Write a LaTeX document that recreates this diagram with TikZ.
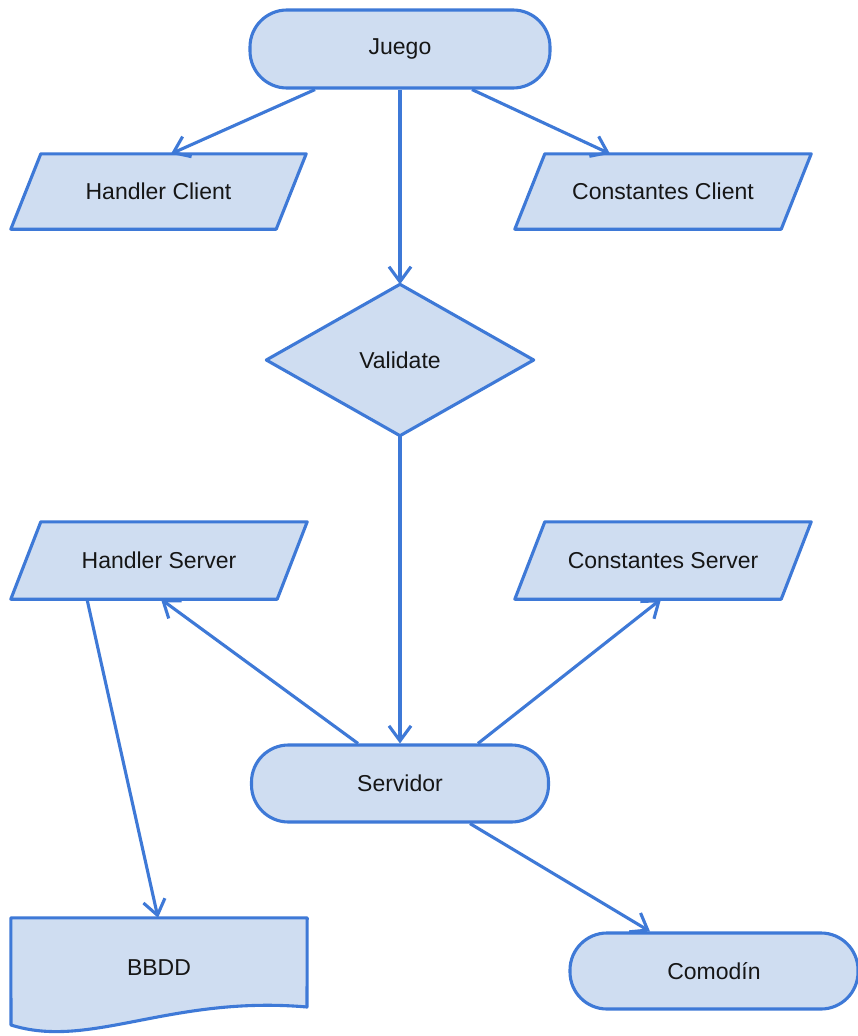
\documentclass[tikz,border=0pt]{standalone}
\usepackage{fontspec}
\setmainfont{Liberation Sans}
\usetikzlibrary{arrows.meta,backgrounds}

\definecolor{edgeblue}{RGB}{62,121,215}
\definecolor{boxfill}{RGB}{207,221,241}
\definecolor{ink}{RGB}{22,22,22}

\tikzset{
  shapeline/.style={draw=edgeblue, line width=3.1pt, fill=boxfill, line join=round},
  txt/.style={rectangle, inner sep=0pt, text=ink, font=\fontsize{23}{27}\selectfont},
  stadium/.style={txt, shapeline, rounded corners=37pt},
  flow/.style={draw=edgeblue, line width=3.1pt,
    -{Straight Barb[length=15pt,width=22pt,line width=3.1pt]}}
}

\begin{document}
\begin{tikzpicture}[x=1pt,y=-1pt]
  \useasboundingbox (0,0) rectangle (857,1036);

  % terminals
  \node[stadium, minimum width=300pt, minimum height=78pt] (juego) at (400,49) {Juego};
  \node[stadium, minimum width=297pt, minimum height=77pt] (serv) at (400,783.5) {Servidor};
  \node[stadium, minimum width=288pt, minimum height=76pt] (com) at (714,971) {Comodín};

  % data (parallelograms), decision and document: text boxes, outlines drawn behind
  \node[txt, minimum width=295pt, minimum height=75pt] (hc) at (158.5,191.5) {Handler Client};
  \node[txt, minimum width=296pt, minimum height=75pt] (cc) at (663,191.5) {Constantes Client};
  \node[txt, minimum width=267pt, minimum height=151pt] (val) at (400,360) {Validate};
  \node[txt, minimum width=296pt, minimum height=77pt] (hs) at (159,560.5) {Handler Server};
  \node[txt, minimum width=296pt, minimum height=77pt] (cs) at (663,560.5) {Constantes Server};
  \node[txt, minimum width=296pt, minimum height=100pt] (bbdd) at (159,968) {BBDD};

  \begin{pgfonlayer}{background}
    \fill[white] (0,0) rectangle (857,1036);
    \foreach \p in {hc,cc,hs,cs}{
      \path[shapeline] ([xshift=30pt]\p.north west) -- (\p.north east)
        -- ([xshift=-30pt]\p.south east) -- (\p.south west) -- cycle;
    }
    \path[shapeline] (val.north) -- (val.east) -- (val.south) -- (val.west) -- cycle;
    \path[shapeline] (bbdd.north west) -- (bbdd.north east) -- (307,1007)
      .. controls (170,995) and (90,1050) .. (11,1025) -- cycle;
  \end{pgfonlayer}

  % connectors
  \draw[flow] ([xshift=-85pt]juego.south) -- ([xshift=12.5pt]hc.north);
  \draw[flow] ([xshift=72pt]juego.south) -- ([xshift=-53pt]cc.north);
  \draw[flow] (juego.south) -- (val.north);
  \draw[flow] (val.south) -- (serv.north);
  \draw[flow] ([xshift=-42pt]serv.north) -- ([xshift=2pt]hs.south);
  \draw[flow] ([xshift=78pt]serv.north) -- ([xshift=-2pt]cs.south);
  \draw[flow] ([xshift=-72pt]hs.south) -- ([xshift=-1pt]bbdd.north);
  \draw[flow] ([xshift=70pt]serv.south) -- ([xshift=-64pt]com.north);
\end{tikzpicture}
\end{document}
